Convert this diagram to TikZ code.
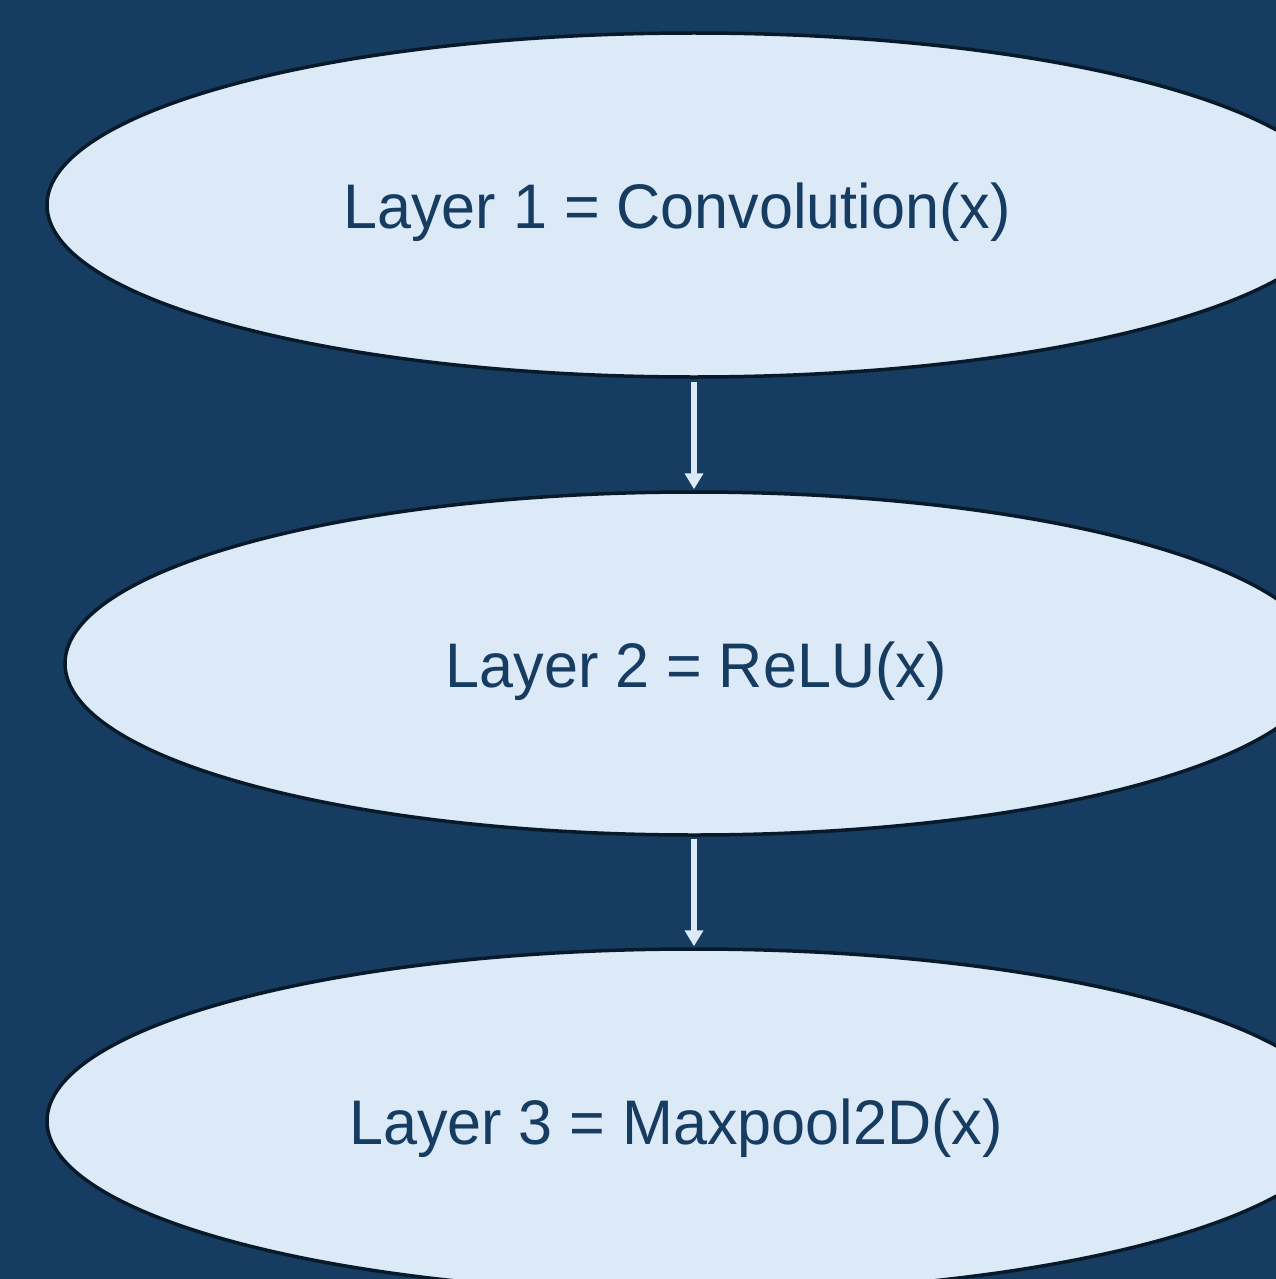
\documentclass[tikz,border=0pt]{standalone}
\usepackage{fontspec}
\setmainfont{Liberation Sans}[FakeStretch=0.97]
\usetikzlibrary{shapes.geometric,arrows.meta}
\definecolor{bgblue}{HTML}{173C61}
\definecolor{fillblue}{HTML}{DCE9F6}
\definecolor{edgeblue}{HTML}{061A2A}
\begin{document}
\begin{tikzpicture}[x=1pt,y=-1pt,
  layer/.style={ellipse, draw=edgeblue, line width=3.5pt, fill=fillblue, inner sep=0pt},
  lbl/.style={anchor=base, text=bgblue, font=\fontsize{63}{70}\selectfont, inner sep=0pt},
  conn/.style={draw=fillblue, line width=5.5pt, -{Triangle[width=18pt,length=16pt]}}]
\fill[bgblue] (0,0) rectangle (1276,1279);
\useasboundingbox (0,0) rectangle (1276,1279);
\node[layer, minimum width=1294pt, minimum height=344pt] (l1) at (694,205) {};
\node[layer, minimum width=1258pt, minimum height=343pt] (l2) at (694,663.5) {};
\node[layer, minimum width=1294pt, minimum height=344pt] (l3) at (694,1121) {};
\node[lbl] (t1) at (677,228) {Layer 1 = Convolution(x)};
\node[lbl] (t2) at (696,687) {Layer 2 = ReLU(x)};
\node[lbl] (t3) at (676,1144) {Layer 3 = Maxpool2D(x)};
\draw[conn] ([yshift=-3pt]l1.south) -- ([yshift=1pt]l2.north);
\draw[conn] ([yshift=-2pt]l2.south) -- ([yshift=1pt]l3.north);
\end{tikzpicture}
\end{document}
